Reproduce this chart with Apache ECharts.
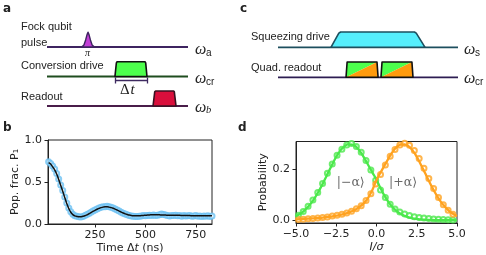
<!DOCTYPE html>
<html><head><meta charset="utf-8">
<script src="https://cdn.jsdelivr.net/npm/echarts@6/dist/echarts.min.js"></script>
<style>html,body{margin:0;padding:0;background:#fff}#c{width:486px;height:255px}</style>
</head><body><div id="c"></div>
<script>
// ---------- panel b data ----------
const bTimes = [20,30,40,50,60,70,80,90,100,110,120,130,140,150,160,170,180,190,200,210,220,230,240,250,260,270,280,290,300,310,320,330,340,350,360,370,380,390,400,410,420,430,440,450,460,470,480,490,500,510,520,530,540,550,560,570,580,590,600,610,620,630,640,650,660,670,680,690,700,710,720,730,740,750,760,770,780,790,800,810,820,830];
const bMeasured = [.74,.72,.69,.655,.60,.535,.465,.40,.32,.25,.19,.145,.115,.098,.092,.085,.082,.09,.10,.112,.125,.14,.155,.168,.18,.19,.198,.205,.205,.21,.205,.20,.19,.178,.168,.155,.14,.128,.118,.11,.102,.095,.092,.09,.088,.092,.095,.10,.098,.10,.105,.102,.108,.10,.105,.11,.118,.112,.108,.10,.095,.102,.10,.105,.098,.10,.092,.10,.095,.098,.10,.092,.095,.10,.092,.095,.09,.095,.092,.098,.09,.095];
const bFit = [.73,.715,.68,.645,.595,.53,.46,.39,.315,.245,.185,.14,.112,.097,.09,.087,.087,.091,.098,.109,.122,.136,.15,.163,.175,.186,.195,.201,.204,.204,.201,.195,.187,.177,.166,.154,.142,.131,.121,.113,.106,.101,.098,.097,.097,.098,.10,.102,.104,.106,.108,.109,.11,.11,.11,.109,.108,.107,.106,.105,.104,.103,.103,.103,.103,.103,.102,.102,.101,.10,.10,.099,.099,.099,.098,.098,.098,.098,.098,.098,.098,.098];
const bXTicks = [250,500,750];
const bYTicks = [0,0.5,1];

// ---------- panel d data ----------
const dI = [-5,-4.75,-4.5,-4.25,-4,-3.75,-3.5,-3.25,-3,-2.75,-2.5,-2.25,-2,-1.75,-1.5,-1.25,-1,-0.75,-0.5,-0.25,0,0.25,0.5,0.75,1,1.25,1.5,1.75,2,2.25,2.5,2.75,3,3.25,3.5,3.75,4,4.25,4.5,4.75,5];
const dGreenFit = [.017,.026,.038,.054,.073,.097,.125,.156,.188,.220,.250,.274,.291,.299,.298,.288,.269,.244,.216,.188,.160,.127,.097,.072,.052,.037,.026,.018,.012,.008,.006,.004,.003,.002,.002,.001,.001,.001,.001,.001,.000];
const dOrangeFit = [.004,.005,.006,.007,.008,.009,.010,.012,.014,.016,.019,.022,.026,.031,.037,.045,.056,.070,.091,.121,.158,.188,.216,.244,.269,.288,.298,.299,.291,.274,.250,.220,.188,.156,.125,.097,.073,.054,.038,.026,.017];
const dPtI = [-4.85,-4.55,-4.25,-3.95,-3.65,-3.35,-3.05,-2.75,-2.45,-2.15,-1.85,-1.55,-1.25,-0.95,-0.65,-0.35,-0.05,0.25,0.55,0.85,1.15,1.45,1.75,2.05,2.35,2.65,2.95,3.25,3.55,3.85,4.15,4.45,4.75];
const dGreenPts = [.02,.035,.056,.08,.11,.145,.185,.222,.256,.28,.296,.302,.29,.268,.235,.198,.158,.12,.09,.064,.045,.033,.025,.019,.015,.012,.01,.008,.006,.005,.004,.003,.002];
const dOrangePts = [.004,.005,.007,.008,.010,.012,.014,.017,.020,.024,.029,.036,.046,.058,.078,.105,.143,.18,.218,.252,.279,.296,.303,.295,.275,.243,.205,.165,.125,.09,.062,.04,.024];
const dYTicks = [0,0.2];
const stateLabels = [[-1.6,0.148,'|−α⟩'],[1.65,0.148,'|+α⟩']];

// ---------- schematic a (time units 0..10, channel levels) ----------
const aLevels = {a:2, cr:1, b:0};
const fockPulse = [[2.45,0],[2.62,0.07],[2.74,0.24],[2.84,0.42],[2.91,0.5],[2.98,0.42],[3.08,0.24],[3.2,0.07],[3.37,0]];
const convPulse = [[4.82,0],[4.92,0.46],[4.97,0.5],[6.95,0.5],[7.0,0.46],[7.09,0]];
const readPulse = [[7.52,0],[7.64,0.48],[7.7,0.51],[8.98,0.51],[9.03,0.48],[9.15,0]];
const dtInterval = [4.82,7.09];
// ---------- schematic c ----------
const cLevels = {s:1, cr:0};
const squeezePulse = [[2.94,0],[3.38,0.47],[3.48,0.51],[7.58,0.51],[7.68,0.47],[8.17,0]];
const quadBoxes = [[3.78,5.56],[5.72,7.5]];

const FONT = '"DejaVu Sans"';
const fmt1 = v => v.toFixed(1).replace('-', '−');
const axCol = '#222';

function zip(xs, ys){ return xs.map((x,i)=>[x, ys[i]]); }

function polySeries(grid, pts, base, fill, stroke, lw){
  return {type:'custom', xAxisIndex:grid, yAxisIndex:grid, data:[[pts[0][0], base]], clip:false, silent:true, z:5,
    renderItem:(p, api)=>({type:'polygon', shape:{points: pts.map(q=>api.coord([q[0], base+q[1]]))},
      style:{fill:fill, stroke:stroke, lineWidth:lw, lineJoin:'round'}})};
}
function boxSeries(grid, boxes, base, h){
  return {type:'custom', xAxisIndex:grid, yAxisIndex:grid, data:boxes.map(b=>[b[0], b[1]]), clip:false, silent:true, z:5,
    renderItem:(p, api)=>{
      const x0=api.value(0), x1=api.value(1), s=0.06;
      const bl=api.coord([x0,base]), tl=api.coord([x0+s,base+h]), tr=api.coord([x1-s,base+h]), br=api.coord([x1,base]);
      return {type:'group', children:[
        {type:'polygon', shape:{points:[bl,tl,tr]}, style:{fill:'#4dff4d'}},
        {type:'polygon', shape:{points:[bl,tr,br]}, style:{fill:'#ff9a0e'}},
        {type:'polygon', shape:{points:[bl,tl,tr,br]}, style:{fill:'none', stroke:'#111', lineWidth:1.6, lineJoin:'round'}}
      ]};
    }};
}
function baseLine(grid, level, color){
  return {type:'line', xAxisIndex:grid, yAxisIndex:grid, data:[[0,level],[10,level]], symbol:'none', silent:true, z:2,
    lineStyle:{color:color, width:1.8}};
}
function txt(x, y, text, font){
  return {type:'text', x:x, y:y, silent:true, style:{text:text, fill:'#222', font:font||'11px "Liberation Sans"',
    align:'left', verticalAlign:'middle', textAlign:'left', textVerticalAlign:'middle'}};
}
function omega(x, y, sub, subItalic){
  return [txt(x, y, 'ω', 'italic 16px "Liberation Serif"'),
          txt(x+11, y+3, sub, (subItalic?'italic 10.5px "Liberation Serif"':'10px "Liberation Sans"'))];
}

const valAxis = (grid, o) => Object.assign({type:'value', gridIndex:grid, splitLine:{show:false},
  axisLine:{show:true, onZero:false, lineStyle:{color:axCol, width:1}},
  axisTick:{show:true, inside:false, length:3.5, lineStyle:{color:axCol, width:1}},
  axisLabel:{color:'#222', fontFamily:FONT, fontSize:11},
  nameTextStyle:{color:'#222', fontFamily:FONT, fontSize:11}}, o);
const hidAxis = (grid, min, max) => ({type:'value', gridIndex:grid, min:min, max:max, show:false});

const chart = echarts.init(document.getElementById('c'), null, {renderer:'canvas'});
chart.setOption({
  animation:false,
  backgroundColor:'#fff',
  grid:[
    {left:48, top:140, width:164, height:84, show:true, borderColor:axCol, borderWidth:1, backgroundColor:'transparent'},
    {left:296, top:141.5, width:161, height:81.5, show:true, borderColor:axCol, borderWidth:1, backgroundColor:'transparent'},
    {left:47, top:32.25, width:141, height:88.5},
    {left:278, top:32.3, width:180, height:60}
  ],
  xAxis:[
    valAxis(0, {min:17, max:830, axisTick:{show:true, length:3.5, customValues:bXTicks, lineStyle:{color:axCol}},
      axisLabel:{customValues:bXTicks, color:'#222', fontFamily:FONT, fontSize:11, margin:6},
      name:'{n|Time Δ}{i|t}{n| (ns)}', nameLocation:'middle', nameGap:19,
      nameTextStyle:{rich:{n:{fontFamily:FONT, fontSize:11, color:'#222'}, i:{fontFamily:FONT, fontStyle:'italic', fontSize:11, color:'#222'}}}}),
    valAxis(1, {min:-5, max:5, interval:2.5,
      axisLabel:{formatter:fmt1, color:'#222', fontFamily:FONT, fontSize:11, margin:6},
      name:'I/σ', nameLocation:'middle', nameGap:19,
      nameTextStyle:{fontFamily:FONT, fontSize:11, fontStyle:'italic', color:'#222'}}),
    hidAxis(2, 0, 10),
    hidAxis(3, 0, 10)
  ],
  yAxis:[
    valAxis(0, {min:0, max:1, axisTick:{show:true, length:3.5, customValues:bYTicks, lineStyle:{color:axCol}},
      axisLabel:{customValues:bYTicks, formatter:fmt1, color:'#222', fontFamily:FONT, fontSize:11, margin:6},
      name:'Pop. frac. P₁', nameLocation:'middle', nameGap:24}),
    valAxis(1, {min:-0.01, max:0.31, axisTick:{show:true, length:3.5, customValues:dYTicks, lineStyle:{color:axCol}},
      axisLabel:{customValues:dYTicks, formatter:fmt1, color:'#222', fontFamily:FONT, fontSize:11, margin:6},
      name:'Probability', nameLocation:'middle', nameGap:24}),
    hidAxis(2, -0.5, 2.5),
    hidAxis(3, -0.5, 1.5)
  ],
  series:[
    // panel b
    {type:'scatter', xAxisIndex:0, yAxisIndex:0, data:zip(bTimes, bMeasured), symbol:'emptyCircle', symbolSize:5,
      itemStyle:{color:'#6cc0f2', borderWidth:1.2}, z:3, silent:true},
    {type:'line', xAxisIndex:0, yAxisIndex:0, data:zip(bTimes, bFit), smooth:true, symbol:'none',
      lineStyle:{color:'#111', width:1.5}, z:4, silent:true},
    // panel d
    {type:'scatter', xAxisIndex:1, yAxisIndex:1, data:zip(dPtI, dGreenPts), symbol:'emptyCircle', symbolSize:5,
      itemStyle:{color:'#4be84b', borderWidth:1.2}, z:3, silent:true},
    {type:'scatter', xAxisIndex:1, yAxisIndex:1, data:zip(dPtI, dOrangePts), symbol:'emptyCircle', symbolSize:5,
      itemStyle:{color:'#ffa21f', borderWidth:1.2}, z:3, silent:true},
    {type:'line', xAxisIndex:1, yAxisIndex:1, data:zip(dI, dGreenFit), smooth:true, symbol:'none',
      lineStyle:{color:'#4be84b', width:2.3}, z:4, silent:true},
    {type:'line', xAxisIndex:1, yAxisIndex:1, data:zip(dI, dOrangeFit), smooth:true, symbol:'none',
      lineStyle:{color:'#ffa21f', width:2.3}, z:4, silent:true},
    {type:'scatter', xAxisIndex:1, yAxisIndex:1, data:stateLabels, symbolSize:0, silent:true, z:6,
      label:{show:true, position:'inside', formatter:p=>p.data[2], color:'#444', fontFamily:'"DejaVu Serif"', fontSize:12.5}},
    // schematic a
    baseLine(2, aLevels.a, '#3e2460'),
    baseLine(2, aLevels.cr, '#1f4d1f'),
    baseLine(2, aLevels.b, '#4a1d4a'),
    polySeries(2, fockPulse, aLevels.a, '#c23fd6', '#3e2460', 1.4),
    polySeries(2, convPulse, aLevels.cr, '#4dff4d', '#111', 1.6),
    polySeries(2, readPulse, aLevels.b, '#d90f3c', '#3a1020', 1.6),
    {type:'lines', coordinateSystem:'cartesian2d', xAxisIndex:2, yAxisIndex:2, silent:true, z:4,
      lineStyle:{color:'#3e2a60', width:1.3, opacity:1},
      data:[{coords:[[dtInterval[0], aLevels.cr-0.03],[dtInterval[0], aLevels.cr-0.24]]},
            {coords:[[dtInterval[0], aLevels.cr-0.12],[dtInterval[1], aLevels.cr-0.12]]},
            {coords:[[dtInterval[1], aLevels.cr-0.03],[dtInterval[1], aLevels.cr-0.24]]}]},
    // schematic c
    baseLine(3, cLevels.s, '#1d4f5e'),
    baseLine(3, cLevels.cr, '#2d1d52'),
    polySeries(3, squeezePulse, cLevels.s, '#55eefc', '#1d4f5e', 1.6),
    boxSeries(3, quadBoxes, cLevels.cr, 0.51)
  ],
  graphic:[
    txt(3, 9, 'a', 'bold 12px "DejaVu Sans"'),
    txt(3, 128, 'b', 'bold 12px "DejaVu Sans"'),
    txt(240, 9, 'c', 'bold 12px "DejaVu Sans"'),
    txt(238, 128, 'd', 'bold 12px "DejaVu Sans"'),
    txt(21, 27, 'Fock qubit'),
    txt(21, 43, 'pulse'),
    txt(21, 66, 'Conversion drive'),
    txt(21, 96.5, 'Readout'),
    txt(85, 53.5, 'π', 'italic 10px "Liberation Serif"'),
    txt(120, 90, 'Δ', '15px "Liberation Serif"'),
    txt(130.5, 90, 't', 'italic 15px "Liberation Serif"'),
    ...omega(195, 50, 'a', false),
    ...omega(195, 79, 'cr', false),
    ...omega(195, 107.5, 'b', true),
    txt(251, 36.5, 'Squeezing drive'),
    txt(251, 67.5, 'Quad. readout'),
    ...omega(464, 50, 's', false),
    ...omega(464, 79, 'cr', false)
  ]
});
</script></body></html>
